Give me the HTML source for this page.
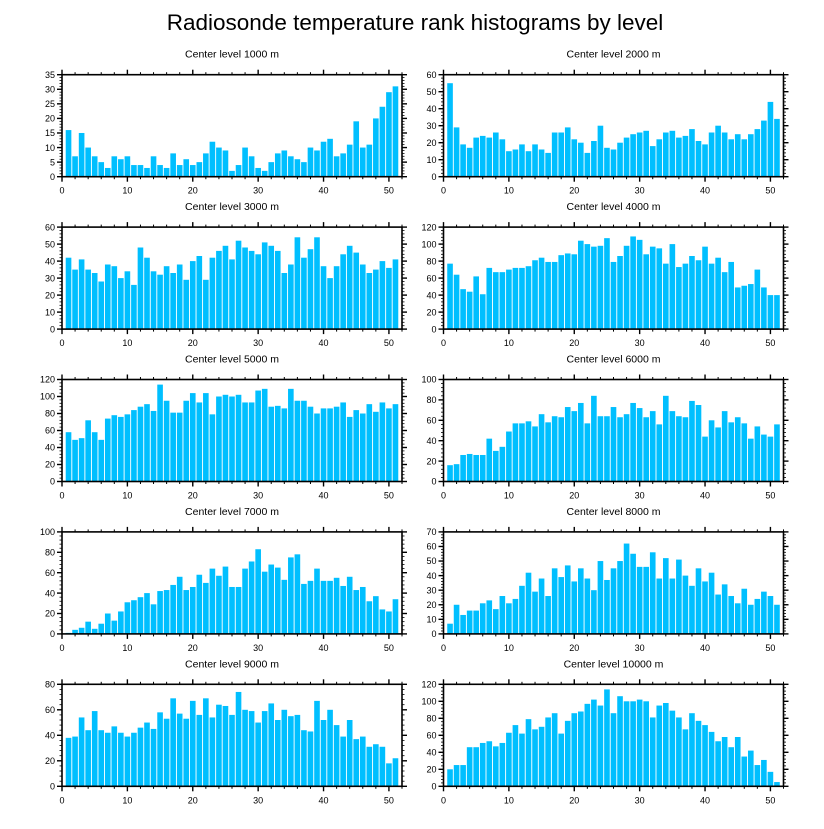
<!DOCTYPE html>
<html><head><meta charset="utf-8"><style>
html,body{margin:0;padding:0;background:#fff;}
svg text{font-family:"Liberation Sans",Arial,sans-serif;fill:#000;}
</style></head><body>
<svg id="chart" width="824" height="824" viewBox="0 0 824 824" xmlns="http://www.w3.org/2000/svg">
<rect width="824" height="824" fill="#fff"/>
<text x="415" y="30" font-size="22.5" text-anchor="middle">Radiosonde temperature rank histograms by level</text>
</svg>
<script>
const levels = ["1000","2000","3000","4000","5000","6000","7000","8000","9000","10000"];
const yMaxes = [35,60,60,120,120,100,100,70,80,120];
const ySteps = [5,10,10,20,20,20,20,10,20,20];
const xTicks = [0,10,20,30,40,50];
const v1000 = [16,7,15,10,7,5,3,7,6,7,4,4,3,7,4,3,8,4,6,4,5,8,12,10,9,2,4,10,7,3,2,5,8,9,7,6,5,10,9,12,13,7,8,11,19,10,11,20,24,29,31];
const v2000 = [55,29,19,17,23,24,23,26,22,15,16,19,15,19,16,14,26,26,29,22,20,14,21,30,17,16,20,23,25,26,27,18,22,26,27,23,24,28,21,19,26,30,26,22,25,22,25,28,33,44,34];
const v3000 = [42,35,41,35,33,28,38,37,30,34,26,48,42,34,32,37,33,38,29,40,43,29,42,46,49,41,52,48,46,44,51,49,46,33,38,54,42,47,54,37,30,37,44,49,45,38,33,35,40,36,41];
const v4000 = [77,64,47,44,62,41,72,67,67,70,72,72,74,81,84,79,79,87,89,88,104,100,97,98,107,79,86,98,109,105,88,97,95,77,100,73,77,86,81,97,77,84,67,79,49,51,53,70,49,40,40];
const v5000 = [58,49,51,72,58,49,74,78,76,79,84,88,91,83,114,95,81,81,95,104,93,104,79,100,102,100,102,93,93,107,109,88,89,86,109,95,95,88,80,86,86,88,93,76,84,80,91,82,93,86,91];
const v6000 = [16,17,26,27,26,26,42,30,34,49,57,57,59,54,66,58,64,63,73,69,77,57,84,64,64,73,63,66,77,72,63,69,56,84,69,64,63,79,75,44,60,53,69,58,63,57,42,54,46,44,56];
const v7000 = [1,4,6,12,5,10,20,13,22,31,33,36,40,29,42,43,48,56,43,46,58,50,64,57,66,46,46,64,71,83,61,68,65,53,75,78,49,52,64,52,52,55,47,56,43,46,32,37,24,22,34];
const v8000 = [7,20,13,16,16,21,23,17,26,21,24,33,42,29,38,26,45,39,47,36,45,38,30,50,37,45,50,62,55,46,46,56,38,52,38,51,40,33,45,36,42,27,34,26,21,31,20,24,29,26,20];
const v9000 = [38,39,54,44,59,44,42,47,42,39,42,46,50,45,58,53,69,57,53,67,56,69,54,64,63,56,74,60,59,50,59,65,52,60,55,56,44,43,67,52,60,48,39,52,37,39,31,33,31,18,22];
const v10000 = [20,25,25,46,46,51,53,47,51,63,72,62,79,67,70,81,86,62,77,86,88,97,102,95,114,86,106,100,100,102,100,81,95,98,89,81,67,86,77,72,64,53,58,46,58,35,42,25,31,17,5];
const seriesList = [v1000,v2000,v3000,v4000,v5000,v6000,v7000,v8000,v9000,v10000];

const NS = "http://www.w3.org/2000/svg";
const svg = document.getElementById('chart');
const XMAX = 52;
const PW = 340, PH = 102;
const lefts = [62, 443.5];
const tops = [74.7, 227.1, 379.5, 531.9, 684.3];
function mk(tag, attrs, parent){const e=document.createElementNS(NS,tag);for(const k in attrs)e.setAttribute(k,attrs[k]);(parent||svg).appendChild(e);return e;}

seriesList.forEach((vals, p) => {
  const col = p % 2, row = Math.floor(p/2);
  const L = lefts[col], T = tops[row], B = T + PH, R = L + PW;
  const ymax = yMaxes[p], ystep = ySteps[p];
  const xs = v => L + v / XMAX * PW;
  const ys = v => B - v / ymax * PH;
  const g = mk('g', {});
  
  
  const t = mk('text', {x:(L+R)/2, y:T-17, 'font-size':10.5, 'text-anchor':'middle'}, g);
  t.textContent = 'Center level ' + levels[p] + ' m';
  
  
  vals.forEach((v, i) => {
    const c = i + 1, w = 0.86;
    const r = mk('rect', {x:xs(c - w/2), y:ys(v), width:xs(c + w/2) - xs(c - w/2), height:B - ys(v), fill:'#00bfff'}, g);
    
    
  });
  const f = mk('rect', {x:L, y:T, width:PW, height:PH, fill:'none', stroke:'#000', 'stroke-width':1.6}, g);
  
  
  for (let v = 0; v <= XMAX; v += 2) {
    const major = v % 10 === 0, len = major ? 5 : 2.5;
    mk('line', {x1:xs(v), x2:xs(v), y1:B, y2:B+len, stroke:'#000', 'stroke-width':major?1.4:1}, g);
    mk('line', {x1:xs(v), x2:xs(v), y1:T, y2:T-len, stroke:'#000', 'stroke-width':major?1.4:1}, g);
  }
  xTicks.forEach(v => {
    const tl = mk('text', {x:xs(v), y:B+17, 'font-size':9, 'text-anchor':'middle'}, g);
    tl.textContent = v;
    
    
  });
  const minor = ystep / 5;
  for (let k = 0; k <= Math.round(ymax/minor); k++) {
    const v = k * minor, major = k % 5 === 0, len = major ? 5 : 2.5;
    mk('line', {x1:L, x2:L-len, y1:ys(v), y2:ys(v), stroke:'#000', 'stroke-width':major?1.4:0.8}, g);
    mk('line', {x1:R, x2:R+len, y1:ys(v), y2:ys(v), stroke:'#000', 'stroke-width':major?1.4:0.8}, g);
  }
  for (let v = 0; v <= ymax; v += ystep) {
    const tl = mk('text', {x:L-7, y:ys(v)+3.2, 'font-size':9, 'text-anchor':'end'}, g);
    tl.textContent = v;
    
    
  }
});
</script>
</body></html>
